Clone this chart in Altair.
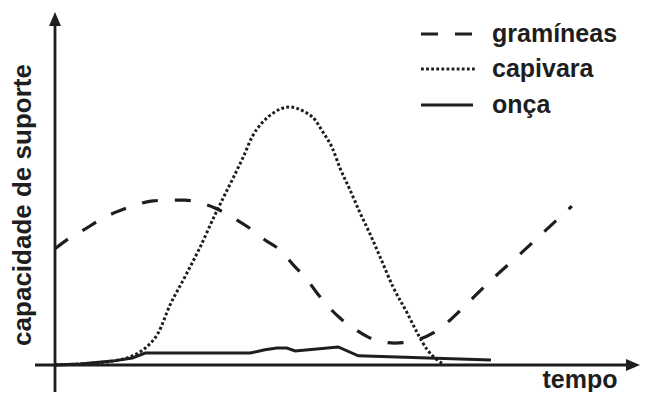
import altair as alt
import pandas as pd

# ---- data (arbitrary units) ----
series_names = ["gramíneas", "capivara", "onça"]

gram_t = [0, 2.5, 4.8, 7.6, 10.3, 13.6, 16.6, 19.5, 22.0, 24.6, 27.1, 30.0, 32.7, 35.6,
          38.1, 40.7, 42.4, 44.4, 46.1, 48.3, 50.3, 53.1, 55.6, 57.6, 59.8, 61.4, 64.1,
          66.4, 68.6, 73.4, 79.0, 83.2, 87.6]
gram_c = [32.9, 36.0, 38.2, 41.1, 43.3, 45.3, 46.5, 46.7, 46.7, 45.9, 44.5, 41.9, 39.1, 35.4,
          32.6, 27.8, 24.9, 20.4, 17.0, 13.3, 10.8, 7.9, 6.5, 6.2, 6.5, 7.1, 9.1,
          11.9, 15.3, 23.2, 31.7, 38.2, 45.0]

capi_t = [0, 4.2, 9.7, 12.7, 15.3, 17.5, 19.5, 22.0, 24.6, 27.1, 30.2, 31.9, 33.4, 35.1,
          37.0, 39.8, 42.0, 44.1, 45.4, 47.0, 48.3, 50.0, 51.7, 53.4, 55.1, 57.3, 59.7,
          61.4, 63.1, 64.4, 65.8]
capi_c = [0, 0.3, 1.1, 2.3, 4.8, 9.1, 17.0, 24.9, 33.4, 42.5, 53.0, 58.9, 64.6, 68.6,
          71.4, 73.1, 72.0, 69.4, 66.0, 61.5, 55.8, 49.6, 43.1, 37.1, 30.6, 22.1, 14.7,
          9.1, 4.3, 2.0, 0.3]

onca_t = [0, 4.2, 9.7, 13.1, 15.3, 33.1, 35.6, 37.6, 39.3, 40.7, 48.0, 51.4, 73.9]
onca_c = [0, 0.3, 1.1, 2.0, 3.4, 3.4, 4.3, 4.8, 4.8, 4.0, 5.1, 2.6, 1.4]

x_title = "tempo"
y_title = "capacidade de suporte"

# ---- layout ----
W, H = 633, 384
PX_T, PX_C = 5.9, 3.53           # pixels per data unit
X0_PAGE, Y0_PAGE = 55, 365       # where the origin sits on the page
xmin = -(X0_PAGE - 8) / PX_T
xmax = xmin + W / PX_T
ymax = (Y0_PAGE - 8) / PX_C
ymin = ymax - H / PX_C

INK = "#1e1e1e"
FONT = "Liberation Sans"

xs = alt.Scale(domain=[xmin, xmax], nice=False, zero=False)
ys = alt.Scale(domain=[ymin, ymax], nice=False, zero=False)


def line_layer(t, c, dash=None, interp="monotone", width=3.0):
    df = pd.DataFrame({"t": t, "c": c})
    kw = dict(color=INK, strokeWidth=width, interpolate=interp, clip=False)
    if dash:
        kw["strokeDash"] = dash
    return alt.Chart(df).mark_line(**kw).encode(
        x=alt.X("t:Q", scale=xs, axis=None),
        y=alt.Y("c:Q", scale=ys, axis=None),
    )


gram = line_layer(gram_t, gram_c, dash=[16, 17], width=3.2)
capi = line_layer(capi_t, capi_c, dash=[2.8, 2.3], width=3.0)
onca = line_layer(onca_t, onca_c, interp="linear", width=3.0)

# axes drawn as arrows
ax_df = pd.DataFrame({"a": [0]})
x_left = (35 - X0_PAGE) / PX_T
x_tip_c = (633 - X0_PAGE) / PX_T
y_bot = ymin
y_tip_c = (Y0_PAGE - 19) / PX_C

x_axis = alt.Chart(ax_df).mark_rule(color=INK, strokeWidth=2.8).encode(
    x=alt.datum(x_left, scale=xs), x2=alt.datum(x_tip_c), y=alt.datum(0, scale=ys)
)
y_axis = alt.Chart(ax_df).mark_rule(color=INK, strokeWidth=2.8).encode(
    y=alt.datum(y_bot, scale=ys), y2=alt.datum(y_tip_c), x=alt.datum(0, scale=xs)
)
x_arrow = alt.Chart(ax_df).mark_point(
    shape="M1,0L-1,-0.85L-1,0.85Z", filled=True, size=196, color=INK, opacity=1, strokeWidth=0
).encode(x=alt.datum(x_tip_c, scale=xs), y=alt.datum(0, scale=ys))
y_arrow = alt.Chart(ax_df).mark_point(
    shape="M0,-1L0.85,1L-0.85,1Z", filled=True, size=196, color=INK, opacity=1, strokeWidth=0
).encode(x=alt.datum(0, scale=xs), y=alt.datum(y_tip_c, scale=ys))

# axis titles
xt = alt.Chart(pd.DataFrame({"s": [x_title]})).mark_text(
    font=FONT, fontWeight="bold", fontSize=25, color=INK, align="center", baseline="alphabetic"
).encode(x=alt.value(580 - 8), y=alt.value(388 - 8), text="s:N")
yt = alt.Chart(pd.DataFrame({"s": [y_title]})).mark_text(
    font=FONT, fontWeight="bold", fontSize=26, color=INK, align="center", baseline="middle", angle=270
).encode(x=alt.value(23 - 8), y=alt.value(205 - 8), text="s:N")

# legend
sym_y = [34, 69, 105]
txt_y = [41.5, 76.5, 112.5]
dashes = [[17, 17], [2.8, 2.3], None]
sym_x2 = [472, 476, 473]
legend_layers = []
for i, name in enumerate(series_names):
    ldf = pd.DataFrame({"s": [name]})
    rkw = dict(color=INK, strokeWidth=3.0)
    if dashes[i]:
        rkw["strokeDash"] = dashes[i]
    legend_layers.append(
        alt.Chart(ldf).mark_rule(**rkw).encode(
            x=alt.value(421 - 8), x2=alt.value(sym_x2[i] - 8), y=alt.value(sym_y[i] - 8)
        )
    )
    legend_layers.append(
        alt.Chart(ldf).mark_text(
            font=FONT, fontWeight="bold", fontSize=25, color=INK, align="left", baseline="alphabetic"
        ).encode(x=alt.value(492 - 8), y=alt.value(txt_y[i] - 8), text="s:N")
    )

chart = alt.layer(
    gram, capi, onca, x_axis, y_axis, x_arrow, y_arrow, xt, yt, *legend_layers
).properties(
    width=W, height=H,
    autosize=alt.AutoSizeParams(type="none"),
    padding=0,
    background="white",
).configure_view(stroke=None)

chart.save("out.html", embed_options={"renderer": "svg", "actions": False})
